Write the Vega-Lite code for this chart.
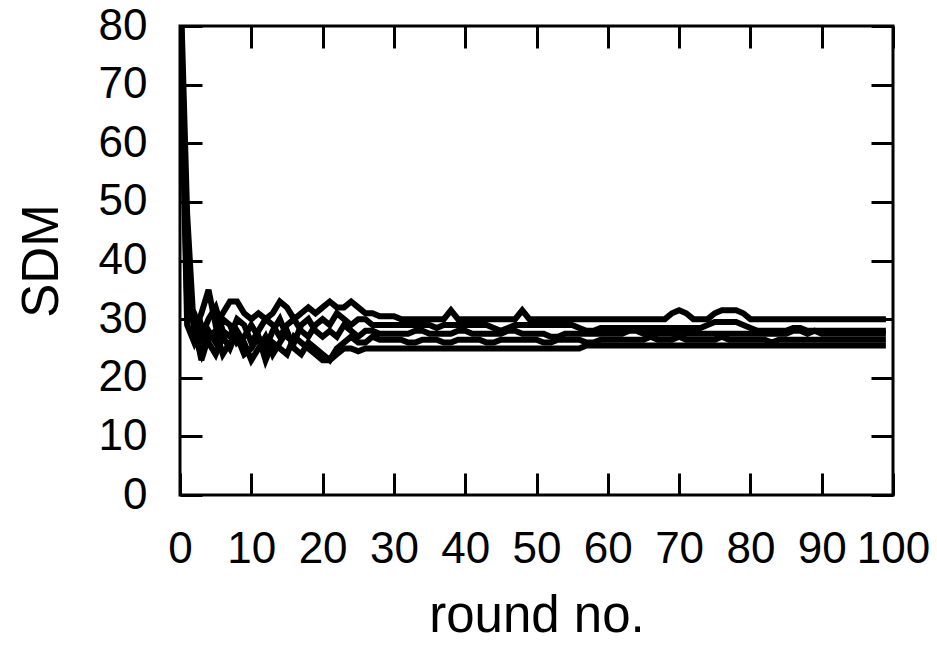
{
  "$schema": "https://vega.github.io/schema/vega-lite/v6.json",
  "autosize": {"type": "none"},
  "padding": {"left": 180, "top": 26, "right": 44, "bottom": 150},
  "width": 713,
  "height": 469,
  "background": "white",
  "config": {
    "view": {"stroke": "black", "strokeWidth": 3},
    "font": "Liberation Sans",
    "axis": {
      "grid": false,
      "domain": false,
      "tickColor": "black",
      "tickWidth": 3,
      "tickSize": -22,
      "labelFlush": false,
      "labelOverlap": false,
      "labelFont": "Liberation Sans",
      "labelFontSize": 44,
      "labelColor": "black",
      "titleFont": "Liberation Sans",
      "titleFontSize": 51,
      "titleFontWeight": "normal",
      "titleColor": "black"
    }
  },
  "data": {"values": [
    {"r":0,"a":88,"b":85,"c":90,"d":84,"e":86},
    {"r":1,"a":40,"b":33,"c":48,"d":29,"e":36},
    {"r":2,"a":28,"b":31,"c":27,"d":26,"e":29},
    {"r":3,"a":31,"b":27,"c":24,"d":29,"e":23},
    {"r":4,"a":35,"b":30,"c":28,"d":26,"e":27},
    {"r":5,"a":29,"b":32,"c":26,"d":24,"e":28},
    {"r":6,"a":31,"b":28,"c":30,"d":27,"e":24},
    {"r":7,"a":33,"b":27,"c":29,"d":25,"e":26},
    {"r":8,"a":33,"b":30,"c":26,"d":28,"e":27},
    {"r":9,"a":31,"b":29,"c":27,"d":26,"e":24},
    {"r":10,"a":30,"b":26,"c":29,"d":23,"e":25},
    {"r":11,"a":31,"b":28,"c":27,"d":25,"e":27},
    {"r":12,"a":30,"b":30,"c":25,"d":27,"e":23},
    {"r":13,"a":31,"b":29,"c":28,"d":24,"e":26},
    {"r":14,"a":33,"b":27,"c":30,"d":26,"e":25},
    {"r":15,"a":32,"b":29,"c":27,"d":28,"e":24},
    {"r":16,"a":30,"b":30,"c":26,"d":25,"e":27},
    {"r":17,"a":31,"b":28,"c":29,"d":24,"e":26},
    {"r":18,"a":32,"b":27,"c":30,"d":26,"e":25},
    {"r":19,"a":31,"b":29,"c":28,"d":25,"e":24},
    {"r":20,"a":32,"b":30,"c":27,"d":24,"e":23},
    {"r":21,"a":33,"b":29,"c":28,"d":23,"e":23},
    {"r":22,"a":32,"b":31,"c":27,"d":25,"e":24},
    {"r":23,"a":32,"b":30,"c":29,"d":26,"e":25},
    {"r":24,"a":33,"b":29,"c":28,"d":27,"e":25},
    {"r":25,"a":32,"b":30,"c":27,"d":26,"e":24.5},
    {"r":26,"a":31,"b":30,"c":28,"d":26,"e":25},
    {"r":27,"a":31,"b":29,"c":28,"d":27,"e":25},
    {"r":28,"a":30.5,"b":29,"c":27.5,"d":26.5,"e":25},
    {"r":29,"a":30.5,"b":29,"c":27.5,"d":26.5,"e":25},
    {"r":30,"a":30.5,"b":29,"c":27.5,"d":26.5,"e":25},
    {"r":31,"a":30,"b":29,"c":27.5,"d":26.5,"e":25},
    {"r":32,"a":30,"b":29,"c":27.5,"d":26,"e":25},
    {"r":33,"a":30,"b":29,"c":28,"d":26,"e":25},
    {"r":34,"a":30,"b":29,"c":28,"d":26.5,"e":25},
    {"r":35,"a":30,"b":29,"c":27.5,"d":26.5,"e":25},
    {"r":36,"a":30,"b":28.5,"c":27.5,"d":26.5,"e":25},
    {"r":37,"a":30,"b":29,"c":27.5,"d":26,"e":25},
    {"r":38,"a":31.5,"b":29,"c":27.5,"d":26,"e":25},
    {"r":39,"a":30,"b":29,"c":28,"d":26.5,"e":25},
    {"r":40,"a":30,"b":29,"c":28,"d":26.5,"e":25},
    {"r":41,"a":30,"b":29,"c":27.5,"d":26.5,"e":25},
    {"r":42,"a":30,"b":29,"c":27.5,"d":26.5,"e":25},
    {"r":43,"a":30,"b":29,"c":27.5,"d":26,"e":25},
    {"r":44,"a":30,"b":28.5,"c":27.5,"d":26,"e":25},
    {"r":45,"a":30,"b":28,"c":27.5,"d":26.5,"e":25},
    {"r":46,"a":30,"b":28.5,"c":28,"d":26.5,"e":25},
    {"r":47,"a":30,"b":29,"c":28,"d":26.5,"e":25},
    {"r":48,"a":31.5,"b":29,"c":27.5,"d":26.5,"e":25},
    {"r":49,"a":30,"b":29,"c":27.5,"d":26.5,"e":25},
    {"r":50,"a":30,"b":29,"c":27.5,"d":26.5,"e":25},
    {"r":51,"a":30,"b":29,"c":27.5,"d":26,"e":25},
    {"r":52,"a":30,"b":29,"c":27,"d":26,"e":25},
    {"r":53,"a":30,"b":29,"c":27,"d":26.5,"e":25},
    {"r":54,"a":30,"b":29,"c":27.5,"d":26.5,"e":25},
    {"r":55,"a":30,"b":29,"c":27.5,"d":26.5,"e":25},
    {"r":56,"a":30,"b":28.5,"c":27.5,"d":26.5,"e":25},
    {"r":57,"a":30,"b":28,"c":27.5,"d":26,"e":25.5},
    {"r":58,"a":30,"b":28,"c":27.5,"d":26,"e":25.5},
    {"r":59,"a":30,"b":28.5,"c":27.5,"d":26.5,"e":25.5},
    {"r":60,"a":30,"b":28.5,"c":27.5,"d":26.5,"e":25.5},
    {"r":61,"a":30,"b":28.5,"c":27.5,"d":26.5,"e":25.5},
    {"r":62,"a":30,"b":28.5,"c":27.5,"d":26.5,"e":25.5},
    {"r":63,"a":30,"b":28.5,"c":28,"d":26.5,"e":25.5},
    {"r":64,"a":30,"b":28.5,"c":28,"d":26.5,"e":25.5},
    {"r":65,"a":30,"b":28.5,"c":27.5,"d":26.5,"e":25.5},
    {"r":66,"a":30,"b":28.5,"c":27.5,"d":27,"e":25.5},
    {"r":67,"a":30,"b":28.5,"c":27.5,"d":26.5,"e":25.5},
    {"r":68,"a":30,"b":28.5,"c":27.5,"d":26.5,"e":25.5},
    {"r":69,"a":31,"b":28.5,"c":27.5,"d":26.5,"e":25.5},
    {"r":70,"a":31.5,"b":28.5,"c":28,"d":27,"e":25.5},
    {"r":71,"a":31,"b":28.5,"c":27.5,"d":26.5,"e":25.5},
    {"r":72,"a":30,"b":28.5,"c":27.5,"d":26.5,"e":25.5},
    {"r":73,"a":30,"b":28.5,"c":27.5,"d":26.5,"e":25.5},
    {"r":74,"a":30,"b":29,"c":27.5,"d":26.5,"e":25.5},
    {"r":75,"a":31,"b":29.5,"c":27.5,"d":26.5,"e":25.5},
    {"r":76,"a":31.5,"b":29.5,"c":27.5,"d":27,"e":25.5},
    {"r":77,"a":31.5,"b":29.5,"c":27.5,"d":26.5,"e":25.5},
    {"r":78,"a":31.5,"b":29.5,"c":27.5,"d":26.5,"e":25.5},
    {"r":79,"a":31,"b":29,"c":27.5,"d":26.5,"e":25.5},
    {"r":80,"a":30,"b":28.5,"c":27.5,"d":26.5,"e":25.5},
    {"r":81,"a":30,"b":28,"c":27.5,"d":26.5,"e":25.5},
    {"r":82,"a":30,"b":28,"c":27.5,"d":26.5,"e":25.5},
    {"r":83,"a":30,"b":28,"c":27.5,"d":26,"e":25.5},
    {"r":84,"a":30,"b":28,"c":27.5,"d":26.5,"e":25.5},
    {"r":85,"a":30,"b":28,"c":27.5,"d":26.5,"e":25.5},
    {"r":86,"a":30,"b":28.5,"c":28,"d":26.5,"e":25.5},
    {"r":87,"a":30,"b":28.5,"c":28,"d":26.5,"e":25.5},
    {"r":88,"a":30,"b":28,"c":27.5,"d":26.5,"e":25.5},
    {"r":89,"a":30,"b":28,"c":28,"d":26.5,"e":25.5},
    {"r":90,"a":30,"b":28,"c":27.5,"d":26.5,"e":25.5},
    {"r":91,"a":30,"b":28,"c":27.5,"d":26.5,"e":25.5},
    {"r":92,"a":30,"b":28,"c":27.5,"d":26.5,"e":25.5},
    {"r":93,"a":30,"b":28,"c":27.5,"d":26.5,"e":25.5},
    {"r":94,"a":30,"b":28,"c":27.5,"d":26.5,"e":25.5},
    {"r":95,"a":30,"b":28,"c":27.5,"d":26.5,"e":25.5},
    {"r":96,"a":30,"b":28,"c":27.5,"d":26.5,"e":25.5},
    {"r":97,"a":30,"b":28,"c":27.5,"d":26.5,"e":25.5},
    {"r":98,"a":30,"b":28,"c":27.5,"d":26.5,"e":25.5},
    {"r":99,"a":30,"b":28,"c":27.5,"d":26.5,"e":25.5}
  ]},
  "transform": [{"fold": ["a", "b", "c", "d", "e"], "as": ["run", "sdm"]}],
  "layer": [
    {
      "mark": {"type": "line", "color": "black", "strokeWidth": 6, "clip": true, "strokeJoin": "miter"},
      "encoding": {
        "x": {"field": "r", "type": "quantitative", "scale": {"domain": [0, 100], "nice": false},
              "axis": {"orient": "bottom", "values": [0,10,20,30,40,50,60,70,80,90,100], "labelPadding": 54, "title": "round no.", "titlePadding": 20}},
        "y": {"field": "sdm", "type": "quantitative", "scale": {"domain": [0, 80], "nice": false},
              "axis": {"orient": "left", "values": [0,10,20,30,40,50,60,70,80], "labelPadding": 55, "title": "SDM", "titlePadding": 30}},
        "detail": {"field": "run"}
      }
    },
    {
      "mark": {"type": "line", "opacity": 0, "clip": true},
      "encoding": {
        "x": {"field": "r", "type": "quantitative",
              "axis": {"orient": "top", "values": [0,10,20,30,40,50,60,70,80,90,100], "labels": false, "title": null}},
        "y": {"field": "sdm", "type": "quantitative",
              "axis": {"orient": "right", "values": [0,10,20,30,40,50,60,70,80], "labels": false, "title": null}},
        "detail": {"field": "run"}
      }
    }
  ],
  "resolve": {"axis": {"x": "independent", "y": "independent"}}
}
